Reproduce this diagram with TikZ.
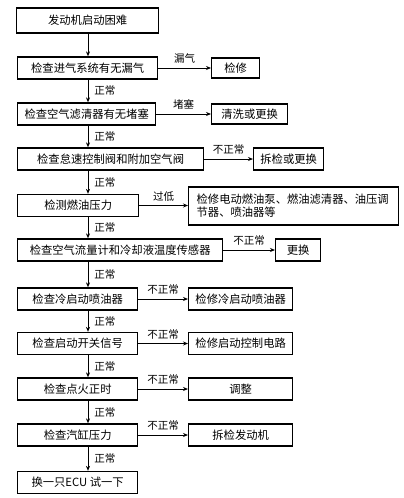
\documentclass[tikz,border=0pt]{standalone}
\usepackage{fontspec}
\setmainfont{Noto Sans CJK SC}
\usetikzlibrary{arrows.meta}
\begin{document}
\begin{tikzpicture}[x=1pt,y=-1pt,
  box/.style={draw, line width=1.3pt, minimum height=22pt, inner sep=1pt, font=\fontsize{11.3}{13}\selectfont, anchor=west},
  arr/.style={line width=0.9pt, -{Stealth[length=5pt,width=4pt]}},
  lbl/.style={font=\fontsize{10.5}{12}\selectfont, inner sep=1pt}]
\useasboundingbox (0,0) rectangle (404,498);
\coordinate (col) at (88,0);
% left column
\node[box, minimum width=142pt, minimum height=25pt] (b1) at (16,20.5) {发动机启动困难};
\node[box, minimum width=140pt] (b2) at (17,68) {检查进气系统有无漏气};
\node[box, minimum width=138pt] (b3) at (17,114) {检查空气滤清器有无堵塞};
\node[box, minimum width=186pt] (b4) at (17,159) {检查怠速控制阀和附加空气阀};
\node[box, minimum width=121pt] (b5) at (17,205.5) {检测燃油压力};
\node[box, minimum width=205pt] (b6) at (17,250) {检查空气流量计和冷却液温度传感器};
\node[box, minimum width=120pt] (b7) at (17,299) {检查冷启动喷油器};
\node[box, minimum width=120pt] (b8) at (17,343.5) {检查启动开关信号};
\node[box, minimum width=120pt] (b9) at (17,389) {检查点火正时};
\node[box, minimum width=120pt] (b10) at (17,435) {检查汽缸压力};
\node[box, minimum width=120pt] (b11) at (17,482.5) {换一只ECU 试一下};
% right column
\node[box, minimum width=48pt, minimum height=20pt] (r2) at (211,68) {检修};
\node[box, minimum width=76pt, minimum height=20pt] (r3) at (211,114) {清洗或更换};
\node[box, minimum width=70pt] (r4) at (253,159) {拆检或更换};
\node[box, minimum height=38pt, text width=194pt, inner xsep=8pt, align=left] (r5) at (188,206) {检修电动燃油泵、燃油滤清器、油压调\\节器、喷油器等};
\node[box, minimum width=45pt] (r6) at (275,250) {更换};
\node[box, minimum width=104pt] (r7) at (188,299) {检修冷启动喷油器};
\node[box, minimum width=104pt] (r8) at (188,343.5) {检修启动控制电路};
\node[box, minimum width=104pt] (r9) at (188,389) {调整};
\node[box, minimum width=104pt] (r10) at (188,435) {拆检发动机};
% vertical arrows
\draw[arr] (b1.south -| col) -- (b2.north -| col);
\foreach \a/\b in {b2/b3,b3/b4,b4/b5,b5/b6,b6/b7,b7/b8,b8/b9,b9/b10,b10/b11}
  \draw[arr] (\a.south -| col) -- node[lbl, right=5pt] {正常} (\b.north -| col);
% horizontal arrows
\draw[arr] (b2.east) -- node[lbl, above=3pt] {漏气} (b2.east -| r2.west);
\draw[arr] (b3.east) -- node[lbl, above=3pt] {堵塞} (b3.east -| r3.west);
\draw[arr] (b4.east) -- node[lbl, above=3pt] {不正常} (b4.east -| r4.west);
\draw[arr] (b5.east) -- node[lbl, above=3pt] {过低} (b5.east -| r5.west);
\draw[arr] (b6.east) -- node[lbl, above=3pt] {不正常} (b6.east -| r6.west);
\draw[arr] (b7.east) -- node[lbl, above=3pt] {不正常} (b7.east -| r7.west);
\draw[arr] (b8.east) -- node[lbl, above=3pt] {不正常} (b8.east -| r8.west);
\draw[arr] (b9.east) -- node[lbl, above=3pt] {不正常} (b9.east -| r9.west);
\draw[arr] (b10.east) -- node[lbl, above=3pt] {不正常} (b10.east -| r10.west);
\end{tikzpicture}
\end{document}
